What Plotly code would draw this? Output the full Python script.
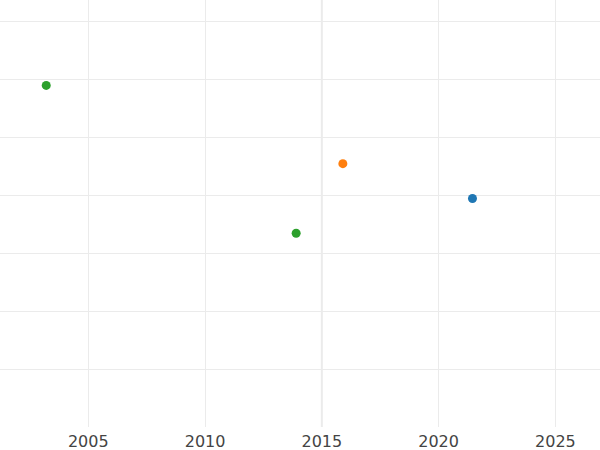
import plotly.graph_objects as go

# Data
blue_x = [2021.45]
blue_y = [3.94]
orange_x = [2015.9]
orange_y = [4.54]
green_x = [2003.2, 2013.9]
green_y = [5.89, 3.34]

x_ticks = [2005, 2010, 2015, 2020, 2025]
y_grid = [1, 2, 3, 4, 5, 6, 7]

fig = go.Figure()
fig.add_trace(go.Scatter(x=blue_x, y=blue_y, mode="markers",
                         marker=dict(color="#1f77b4", size=9), name="A"))
fig.add_trace(go.Scatter(x=orange_x, y=orange_y, mode="markers",
                         marker=dict(color="#ff7f0e", size=9), name="B"))
fig.add_trace(go.Scatter(x=green_x, y=green_y, mode="markers",
                         marker=dict(color="#2ca02c", size=9), name="C"))

fig.add_vline(x=2015, line=dict(color="#ebebeb", width=2), layer="below")

fig.update_layout(
    width=600, height=450,
    margin=dict(l=0, r=0, t=0, b=23),
    paper_bgcolor="white", plot_bgcolor="white",
    showlegend=False,
    font=dict(family="DejaVu Sans", size=16, color="#444444"),
)
fig.update_xaxes(range=[2001.22, 2026.91], tickvals=x_ticks,
                 showgrid=True, gridcolor="#ebebeb", gridwidth=1,
                 zeroline=False, showline=False, ticks="",
                 ticklabelstandoff=3)
fig.update_yaxes(range=[0, 7.362], tickvals=y_grid, showticklabels=False,
                 showgrid=True, gridcolor="#ebebeb", gridwidth=1,
                 zeroline=False, showline=False, ticks="")

fig.write_html("out.html", config={"displayModeBar": False},
               post_script="document.body.style.margin='0';document.body.style.overflow='hidden';")
